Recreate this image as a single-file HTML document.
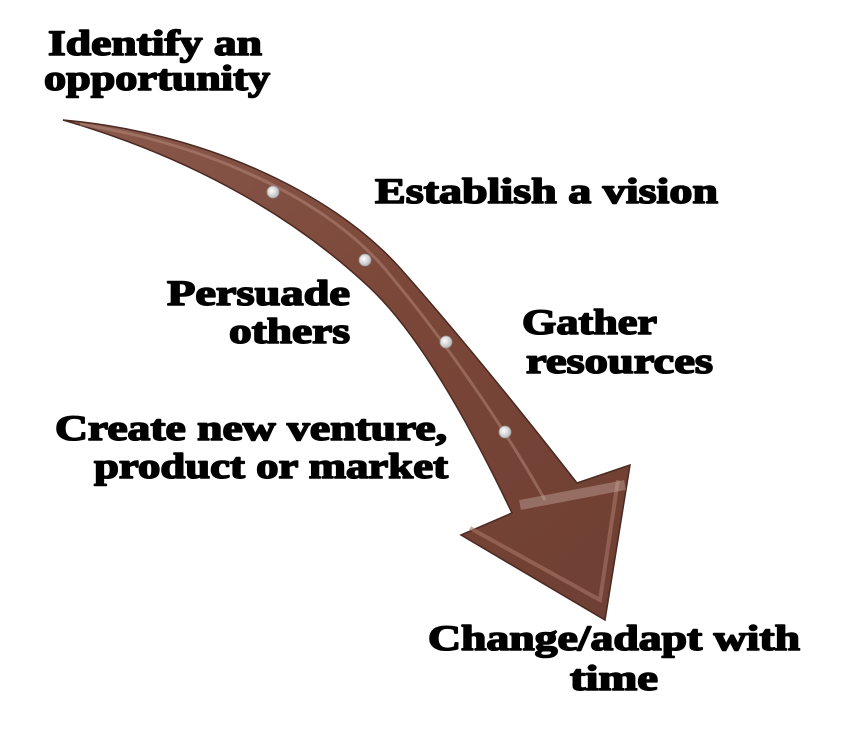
<!DOCTYPE html>
<html><head><meta charset="utf-8"><style>html,body{margin:0;padding:0;background:#fff}svg{display:block}</style></head>
<body>
<svg width="866" height="736" viewBox="0 0 866 736" xmlns="http://www.w3.org/2000/svg">
<defs>
<linearGradient id="g" x1="0" y1="0" x2="1" y2="1">
<stop offset="0" stop-color="#8a5a4c"/>
<stop offset="0.5" stop-color="#7a4638"/>
<stop offset="1" stop-color="#6e3f33"/>
</linearGradient>
<radialGradient id="d" cx="0.4" cy="0.4" r="0.6">
<stop offset="0" stop-color="#fff"/><stop offset="1" stop-color="#bbb"/>
</radialGradient>
</defs>
<path d="M63,120 C200,132 330,190 400,268 C455,330 520,410 577,483 L630,465 L605,620 L461,535 L512,513 C470,425 420,335 370,288 C300,222 200,160 63,120 Z" fill="url(#g)" stroke="#4a2a22" stroke-width="1.5"/>
<path d="M80,124 C210,145 330,200 390,275 C440,335 500,420 545,500" fill="none" stroke="#b58a7c" stroke-width="3" opacity="0.5"/>
<path d="M470,528 L600,600 L618,480" fill="none" stroke="#a77565" stroke-width="4" opacity="0.6"/>
<path d="M520,505 L625,485" stroke="#d9c3bb" stroke-width="10" opacity="0.35"/>
<g fill="url(#d)" stroke="#999" stroke-width="0.8">
<circle cx="273" cy="192" r="6"/><circle cx="365" cy="260" r="6"/><circle cx="446" cy="342" r="6"/><circle cx="505" cy="432" r="6"/>
</g>
<g font-family="'Liberation Serif',serif" font-weight="bold" font-size="36" fill="#000" stroke="#000" stroke-width="1.6" stroke-linejoin="round">
<text x="48" y="55" textLength="214" lengthAdjust="spacingAndGlyphs">Identify an</text>
<text x="44" y="90" textLength="226" lengthAdjust="spacingAndGlyphs">opportunity</text>
<text x="375" y="203" textLength="343" lengthAdjust="spacingAndGlyphs">Establish a vision</text>
<text x="167" y="305" textLength="183" lengthAdjust="spacingAndGlyphs">Persuade</text>
<text x="229" y="343" textLength="121" lengthAdjust="spacingAndGlyphs">others</text>
<text x="522" y="334" textLength="135" lengthAdjust="spacingAndGlyphs">Gather</text>
<text x="526" y="373" textLength="187" lengthAdjust="spacingAndGlyphs">resources</text>
<text x="55" y="440" textLength="392" lengthAdjust="spacingAndGlyphs">Create new venture,</text>
<text x="94" y="478" textLength="354" lengthAdjust="spacingAndGlyphs">product or market</text>
<text x="428" y="650" textLength="372" lengthAdjust="spacingAndGlyphs">Change/adapt with</text>
<text x="570" y="690" textLength="88" lengthAdjust="spacingAndGlyphs">time</text>
</g>
</svg>
</body></html>
